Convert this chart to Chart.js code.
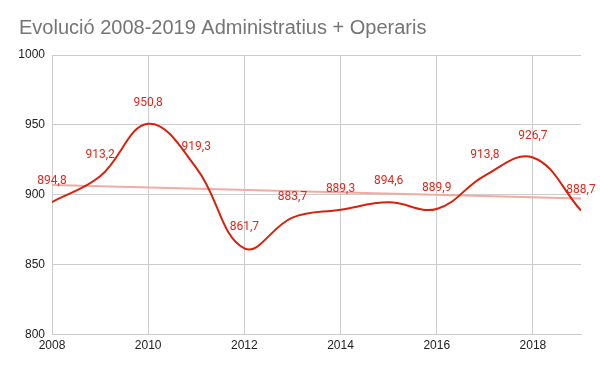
<!DOCTYPE html>
<html><head><meta charset="utf-8">
<script src="https://cdn.jsdelivr.net/npm/chart.js@4/dist/chart.umd.min.js"></script>
<style>html,body{margin:0;padding:0;background:#fff}#wrap{width:600px;height:370px;position:relative}</style>
</head><body><div id="wrap"><canvas id="c" width="600" height="370"></canvas></div>
<script>
const years = [2008,2009,2010,2011,2012,2013,2014,2015,2016,2017,2018,2019];
const values = [894.8,913.2,950.8,919.3,861.7,883.7,889.3,894.6,889.9,913.8,926.7,888.7];
const trendYears = [2008,2019];
const trendValues = [907.0,897.4];
const yTicks = [800,850,900,950,1000];
const xTicks = [2008,2010,2012,2014,2016,2018];

const labelPlugin = {
  id:'valLabels',
  afterDatasetsDraw(chart){
    const ctx = chart.ctx;
    const meta = chart.getDatasetMeta(1);
    ctx.save();
    ctx.font = '12px Roboto, "Liberation Sans", Arial, sans-serif';
    ctx.fillStyle = '#e2261a';
    ctx.textAlign = 'center';
    ctx.textBaseline = 'middle';
    meta.data.forEach((pt,i)=>{
      const txt = values[i].toFixed(1).replace('.',',');
      ctx.fillText(txt, pt.x, pt.y - 21);
    });
    ctx.restore();
  }
};

new Chart(document.getElementById('c'),{
  type:'line',
  data:{datasets:[
    {label:'trend', data:trendYears.map((x,i)=>({x,y:trendValues[i]})), borderColor:'#f4aaa0', borderWidth:2, pointRadius:0, tension:0, order:2},
    {label:'values', data:years.map((x,i)=>({x,y:values[i]})), borderColor:'#d9200a', borderWidth:2, pointRadius:0, tension:0.4, order:1}
  ]},
  options:{
    responsive:false, animation:false,
    layout:{padding:{left:19,right:19,top:0,bottom:13}},
    plugins:{
      legend:{display:false}, tooltip:{enabled:false},
      title:{display:true, text:'Evolució 2008-2019 Administratius + Operaris', align:'start', color:'#757575',
        font:{family:'"Liberation Sans", Arial, sans-serif', size:20, weight:'normal'}, padding:{top:16,bottom:15}}
    },
    scales:{
      x:{type:'linear', min:2008, max:2019,
        afterBuildTicks(axis){axis.ticks = xTicks.map(v=>({value:v}));},
        ticks:{color:'#222', font:{family:'"Liberation Sans", Arial, sans-serif', size:12}, callback:v=>String(v), maxRotation:0, padding:4},
        grid:{color:'#cccccc', drawTicks:false}, border:{color:'#cccccc'}},
      y:{min:800, max:1000,
        afterBuildTicks(axis){axis.ticks = yTicks.map(v=>({value:v}));},
        afterFit(axis){axis.width = 33;},
        ticks:{color:'#222', font:{family:'"Liberation Sans", Arial, sans-serif', size:12}, callback:v=>String(v), padding:7},
        grid:{color:'#cccccc', drawTicks:false}, border:{color:'#cccccc'}}
    }
  },
  plugins:[labelPlugin]
});
</script></body></html>
